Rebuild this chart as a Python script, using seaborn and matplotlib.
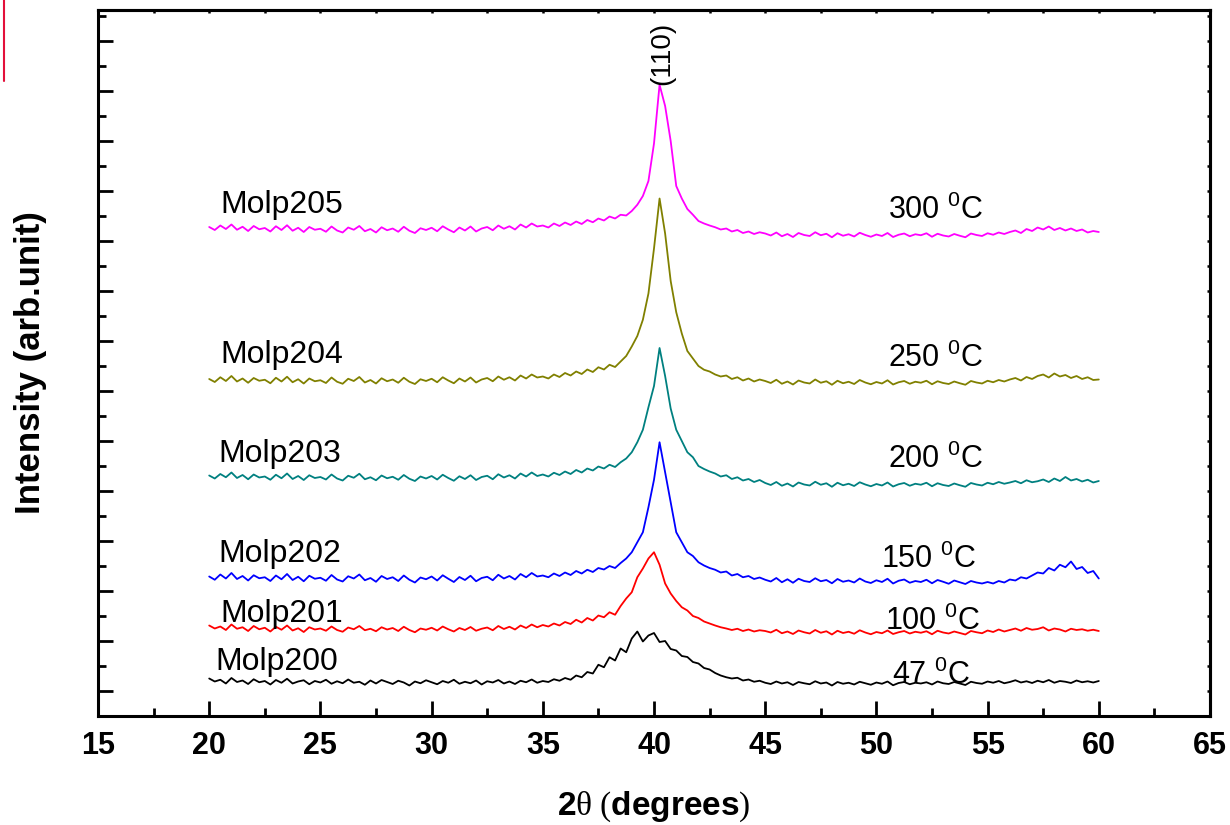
import numpy as np
import pandas as pd
import matplotlib
matplotlib.use("Agg")
import matplotlib.pyplot as plt
from matplotlib.lines import Line2D
import seaborn as sns

# 2theta scan grid (degrees), 0.25 deg step from 20 to 60
two_theta = np.arange(20, 60.001, 0.25)

samples = ['Molp200', 'Molp201', 'Molp202', 'Molp203', 'Molp204', 'Molp205']
temps = ['47', '100', '150', '200', '250', '300']
colors = ['#000000', '#ff0000', '#0000ff', '#008080', '#808000', '#ff00ff']

# intensities (arb. units, already offset as in the picture)
molp200 = [1.50, 1.38, 1.45, 1.30, 1.52, 1.36, 1.42, 1.28, 1.47, 1.35, 1.40, 1.26, 1.44, 1.33, 1.49, 1.30, 1.38, 1.43, 1.27, 1.40,
           1.34, 1.45, 1.29, 1.39, 1.31, 1.46, 1.33, 1.37, 1.25, 1.42, 1.30, 1.44, 1.36, 1.28, 1.41, 1.34, 1.22, 1.38, 1.31, 1.43,
           1.35, 1.27, 1.40, 1.33, 1.45, 1.29, 1.37, 1.31, 1.42, 1.26, 1.39, 1.34, 1.44, 1.30, 1.38, 1.28, 1.41, 1.35, 1.46, 1.33,
           1.40, 1.36, 1.47, 1.41, 1.52, 1.45, 1.62, 1.55, 1.76, 1.70, 2.05, 1.95,
           2.35, 2.22, 2.70, 2.55, 3.10, 3.38, 2.98, 3.22, 3.32, 2.96, 3.00, 2.68, 2.62, 2.40, 2.36, 2.16, 2.10, 1.92, 1.86, 1.72,
           1.62, 1.55, 1.50, 1.53, 1.42, 1.46, 1.37, 1.41,
           1.33, 1.28, 1.38, 1.30, 1.35, 1.24, 1.36, 1.31, 1.27, 1.39, 1.30, 1.34, 1.22, 1.36, 1.29, 1.33, 1.26, 1.37, 1.31, 1.25,
           1.34, 1.29, 1.38, 1.23, 1.32, 1.36, 1.27, 1.33, 1.30, 1.35, 1.26, 1.38, 1.31, 1.28, 1.36, 1.30, 1.24, 1.37, 1.32, 1.29,
           1.38, 1.33, 1.40, 1.31, 1.36, 1.43, 1.34, 1.39, 1.32, 1.41, 1.35, 1.44, 1.33, 1.40, 1.37, 1.32, 1.42, 1.35, 1.39, 1.34, 1.40]

molp201 = [3.62, 3.50, 3.58, 3.44, 3.66, 3.49, 3.55, 3.40, 3.60, 3.47, 3.53, 3.38, 3.57, 3.45, 3.62, 3.42, 3.51, 3.36, 3.55, 3.46,
           3.50, 3.41, 3.58, 3.44, 3.37, 3.54, 3.47, 3.60, 3.43, 3.49, 3.39, 3.55, 3.46, 3.52, 3.40, 3.57, 3.44, 3.35, 3.50, 3.45,
           3.53, 3.42, 3.58, 3.47, 3.38, 3.52, 3.44, 3.56, 3.41, 3.49, 3.54, 3.43, 3.60, 3.48, 3.57, 3.46, 3.62, 3.52, 3.66, 3.55,
           3.64, 3.58, 3.70, 3.62, 3.76, 3.68, 3.85, 3.74, 3.92, 3.82, 4.02, 3.95,
           4.15, 4.05, 4.40, 4.70, 4.95, 5.55, 5.90, 6.30, 6.55, 6.05, 5.30, 4.90, 4.60, 4.35, 4.22, 4.00, 3.92, 3.78, 3.70, 3.62,
           3.55, 3.50, 3.44, 3.49, 3.40, 3.46, 3.38, 3.43,
           3.40, 3.34, 3.45, 3.31, 3.38, 3.28, 3.42, 3.35, 3.30, 3.44, 3.33, 3.39, 3.26, 3.41, 3.32, 3.37, 3.29, 3.43, 3.34, 3.27,
           3.36, 3.31, 3.42, 3.28, 3.35, 3.40, 3.30, 3.37, 3.33, 3.39, 3.27, 3.41, 3.34, 3.30, 3.38, 3.32, 3.26, 3.40, 3.35, 3.31,
           3.42, 3.36, 3.46, 3.38, 3.44, 3.50, 3.41, 3.52, 3.45, 3.48, 3.55, 3.42, 3.50, 3.46, 3.38, 3.49, 3.44, 3.47, 3.41, 3.45, 3.40]

molp202 = [5.58, 5.45, 5.66, 5.50, 5.72, 5.48, 5.60, 5.42, 5.63, 5.51, 5.55, 5.40, 5.62, 5.47, 5.68, 5.44, 5.57, 5.39, 5.61, 5.49,
           5.53, 5.41, 5.64, 5.46, 5.38, 5.59, 5.50, 5.66, 5.43, 5.52, 5.37, 5.60, 5.48, 5.55, 5.40, 5.62, 5.45, 5.34, 5.54, 5.47,
           5.58, 5.42, 5.63, 5.49, 5.36, 5.56, 5.44, 5.61, 5.39, 5.52, 5.57, 5.43, 5.65, 5.50, 5.60, 5.46, 5.68, 5.55, 5.72, 5.58,
           5.62, 5.55, 5.70, 5.60, 5.74, 5.64, 5.80, 5.70, 5.85, 5.76, 5.92, 5.86,
           6.00, 5.92, 6.12, 6.30, 6.55, 6.95, 7.35, 8.35, 9.45, 10.95, 9.75, 8.55, 7.35, 6.95, 6.55, 6.40, 6.15, 6.02, 5.92, 5.85,
           5.74, 5.78, 5.62, 5.68, 5.55, 5.60, 5.48, 5.54,
           5.45, 5.38, 5.52, 5.35, 5.47, 5.33, 5.49, 5.40, 5.36, 5.51, 5.39, 5.44, 5.31, 5.48, 5.37, 5.42, 5.34, 5.50, 5.38, 5.32,
           5.43, 5.36, 5.49, 5.30, 5.41, 5.46, 5.33, 5.40, 5.36, 5.45, 5.31, 5.44, 5.37, 5.29, 5.42, 5.35, 5.28, 5.40, 5.34, 5.30,
           5.36, 5.30, 5.40, 5.34, 5.46, 5.42, 5.55, 5.50, 5.62, 5.74, 5.70, 5.92, 5.82, 6.05, 5.95, 6.18, 5.88, 5.96, 5.72, 5.80, 5.50]

molp203 = [9.62, 9.50, 9.68, 9.55, 9.74, 9.52, 9.64, 9.47, 9.66, 9.54, 9.58, 9.45, 9.65, 9.51, 9.70, 9.48, 9.60, 9.44, 9.63, 9.52,
           9.56, 9.46, 9.66, 9.50, 9.42, 9.61, 9.53, 9.69, 9.47, 9.55, 9.43, 9.62, 9.51, 9.57, 9.45, 9.64, 9.49, 9.40, 9.58, 9.50,
           9.60, 9.46, 9.65, 9.52, 9.41, 9.59, 9.48, 9.63, 9.44, 9.56, 9.61, 9.47, 9.67, 9.54, 9.63, 9.50, 9.70, 9.58, 9.74, 9.60,
           9.66, 9.58, 9.73, 9.64, 9.78, 9.68, 9.84, 9.74, 9.90, 9.82, 9.98, 9.90,
           10.05, 9.96, 10.15, 10.30, 10.55, 10.95, 11.45, 12.35, 13.20, 14.72, 13.60, 12.30, 11.45, 11.00, 10.55, 10.35, 10.00, 9.88, 9.78, 9.70,
           9.58, 9.63, 9.48, 9.55, 9.42, 9.48, 9.36, 9.44,
           9.32, 9.24, 9.36, 9.21, 9.30, 9.18, 9.34, 9.26, 9.22, 9.37, 9.25, 9.31, 9.17, 9.33, 9.23, 9.29, 9.20, 9.35, 9.26, 9.19,
           9.28, 9.22, 9.34, 9.18, 9.27, 9.32, 9.21, 9.29, 9.25, 9.33, 9.19, 9.31, 9.24, 9.20, 9.30, 9.23, 9.17, 9.32, 9.26, 9.22,
           9.33, 9.27, 9.36, 9.29, 9.34, 9.40, 9.31, 9.43, 9.35, 9.39, 9.46, 9.36, 9.50, 9.40, 9.56, 9.42, 9.48, 9.38, 9.45, 9.34, 9.40]

molp204 = [13.48, 13.36, 13.55, 13.40, 13.60, 13.38, 13.50, 13.33, 13.52, 13.41, 13.45, 13.31, 13.53, 13.38, 13.57, 13.35, 13.47, 13.30, 13.50, 13.39,
           13.43, 13.32, 13.54, 13.37, 13.29, 13.49, 13.40, 13.56, 13.34, 13.44, 13.30, 13.51, 13.39, 13.46, 13.33, 13.53, 13.37, 13.28, 13.47, 13.40,
           13.49, 13.35, 13.55, 13.42, 13.31, 13.50, 13.38, 13.54, 13.34, 13.46, 13.52, 13.39, 13.58, 13.45, 13.55, 13.42, 13.62, 13.50, 13.66, 13.54,
           13.58, 13.50, 13.66, 13.56, 13.72, 13.62, 13.78, 13.68, 13.86, 13.76, 13.95, 13.86,
           14.05, 13.96, 14.18, 14.40, 14.78, 15.20, 15.85, 16.90, 18.70, 20.70, 19.30, 17.40, 16.15, 15.30, 14.60, 14.30, 14.00, 13.85, 13.78, 13.66,
           13.58, 13.62, 13.48, 13.55, 13.42, 13.50, 13.38, 13.46,
           13.40, 13.32, 13.45, 13.29, 13.38, 13.26, 13.42, 13.34, 13.30, 13.46, 13.33, 13.39, 13.25, 13.41, 13.31, 13.37, 13.28, 13.44, 13.34, 13.27,
           13.36, 13.30, 13.43, 13.26, 13.35, 13.40, 13.29, 13.37, 13.33, 13.41, 13.27, 13.39, 13.32, 13.28, 13.38, 13.31, 13.25, 13.40, 13.34, 13.30,
           13.41, 13.35, 13.44, 13.38, 13.46, 13.52, 13.42, 13.56, 13.48, 13.60, 13.66, 13.54, 13.70, 13.58, 13.64, 13.52, 13.60, 13.48, 13.55, 13.44, 13.46]

molp205 = [19.56, 19.44, 19.62, 19.48, 19.66, 19.45, 19.57, 19.40, 19.60, 19.47, 19.52, 19.38, 19.59, 19.44, 19.63, 19.41, 19.53, 19.36, 19.56, 19.45,
           19.49, 19.37, 19.58, 19.42, 19.34, 19.54, 19.45, 19.60, 19.39, 19.48, 19.34, 19.55, 19.43, 19.50, 19.37, 19.57, 19.41, 19.32, 19.51, 19.44,
           19.53, 19.39, 19.59, 19.46, 19.35, 19.54, 19.42, 19.58, 19.38, 19.50, 19.56, 19.43, 19.62, 19.49, 19.59, 19.46, 19.66, 19.54, 19.70, 19.58,
           19.62, 19.54, 19.70, 19.60, 19.74, 19.64, 19.78, 19.68, 19.84, 19.75, 19.90, 19.82,
           19.98, 19.90, 20.05, 20.02, 20.20, 20.45, 20.80, 21.40, 22.90, 25.25, 24.40, 23.00, 21.20, 20.70, 20.28, 20.05, 19.80, 19.70, 19.62, 19.55,
           19.46, 19.50, 19.38, 19.44, 19.32, 19.38, 19.28, 19.35,
           19.30, 19.22, 19.34, 19.19, 19.28, 19.16, 19.32, 19.24, 19.20, 19.35, 19.23, 19.29, 19.15, 19.31, 19.21, 19.27, 19.18, 19.33, 19.24, 19.17,
           19.26, 19.20, 19.32, 19.16, 19.25, 19.30, 19.19, 19.27, 19.23, 19.31, 19.17, 19.29, 19.22, 19.18, 19.28, 19.21, 19.15, 19.30, 19.24, 19.20,
           19.31, 19.25, 19.34, 19.28, 19.36, 19.42, 19.32, 19.48, 19.40, 19.54, 19.46, 19.58, 19.44, 19.52, 19.42, 19.50, 19.40, 19.46, 19.34, 19.40, 19.36]

series = [molp200, molp201, molp202, molp203, molp204, molp205]

# label anchors (x in degrees, baseline in intensity units)
name_pos = [(20.3, 1.84), (20.5, 3.76), (20.4, 6.16), (20.4, 10.16), (20.5, 14.12), (20.5, 20.12)]
temp_pos = [(50.7, 1.30), (50.4, 3.45), (50.2, 5.92), (50.5, 9.92), (50.5, 13.98), (50.5, 19.90)]

df = pd.concat([pd.DataFrame({'two_theta': two_theta, 'intensity': s, 'sample': n})
                for s, n in zip(series, samples)], ignore_index=True)

sns.set_style("white")
plt.rcParams['font.family'] = ['Liberation Sans', 'DejaVu Sans']
plt.rcParams['mathtext.fontset'] = 'custom'
plt.rcParams['mathtext.rm'] = 'Liberation Serif'
plt.rcParams['mathtext.it'] = 'Liberation Serif:italic'
plt.rcParams['mathtext.bf'] = 'Liberation Sans:bold'
plt.rcParams['mathtext.default'] = 'regular'
for key in ['text.color', 'axes.labelcolor', 'xtick.color', 'ytick.color', 'axes.edgecolor']:
    plt.rcParams[key] = 'black'

fig = plt.figure(figsize=(12.3, 8.25), dpi=100)
ax = fig.add_axes([98 / 1230, 1 - 716 / 825, (1210 - 98) / 1230, (716 - 10) / 825])

sns.lineplot(data=df, x='two_theta', y='intensity', hue='sample', hue_order=samples,
             palette=colors, estimator=None, linewidth=1.3, legend=False, ax=ax)

ax.set_xlim(15, 65)
ax.set_ylim(0, 28.24)
ax.set_xticks(np.arange(15, 65.1, 5))
ax.set_xticks(np.arange(17.5, 65, 5), minor=True)
ax.set_yticks(np.arange(1, 28, 2))
ax.set_yticks(np.arange(2, 29, 2), minor=True)
ax.set_xticklabels([f"{v:g}" for v in np.arange(15, 65.1, 5)], fontsize=22, fontweight='bold')
ax.tick_params(axis='both', which='major', direction='in', length=10.5, width=2, pad=11,
               bottom=True, left=True, top=False, right=False, labelleft=False)
ax.tick_params(axis='both', which='minor', direction='in', length=5.5, width=2,
               bottom=True, left=True, top=False, right=False)
for sp in ax.spines.values():
    sp.set_linewidth(2.2)
    sp.set_color('black')

# small inward ticks on top and right
top = ax.secondary_xaxis('top')
top.set_xticks(np.arange(15, 65.1, 2.5))
top.tick_params(axis='x', direction='in', length=2.5, width=1.8, top=True, labeltop=False)
top.spines['top'].set_linewidth(2.2)
right = ax.secondary_yaxis('right')
right.set_yticks(np.arange(1, 29, 1))
right.tick_params(axis='y', direction='in', length=2.5, width=1.8, right=True, labelright=False)
right.spines['right'].set_linewidth(2.2)

ax.set_xlabel(r'$\mathbf{2}\mathrm{\theta\ (}\mathbf{degrees}\mathrm{)}$', fontsize=24, labelpad=20)
ax.set_ylabel('Intensity (arb.unit)', fontsize=25, fontweight='bold', labelpad=33)

for (x, y), n in zip(name_pos, samples):
    ax.text(x, y, n, fontsize=23, ha='left', va='baseline')
for (x, y), t in zip(temp_pos, temps):
    ax.text(x, y, t + r' $^{0}$C', fontsize=22, ha='left', va='baseline')

ax.text(40.38, 26.5, '(110)', fontsize=20, rotation=90, ha='center', va='center')

# thin red mark at the top-left edge of the picture
fig.add_artist(Line2D([3.5 / 1230, 3.5 / 1230], [1, 1 - 81 / 825], color='#e3103a', lw=1.5))

fig.savefig('out.png', dpi=100)
